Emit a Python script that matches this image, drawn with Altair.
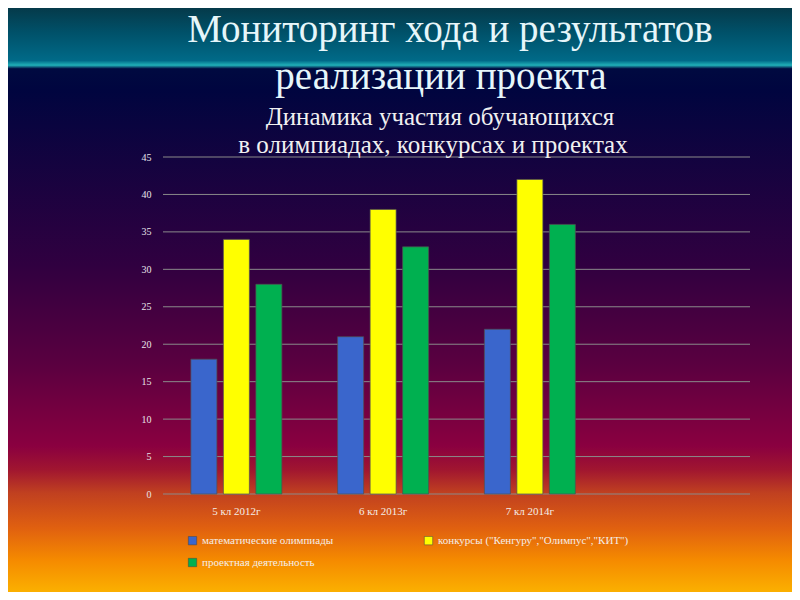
import altair as alt
import pandas as pd

categories = ["5 кл 2012г", "6 кл 2013г", "7 кл 2014г"]
series = ["математические олимпиады", "конкурсы (\"Кенгуру\",\"Олимпус\",\"КИТ\")", "проектная деятельность"]
math_olymp = [18, 21, 22]
contests = [34, 38, 42]
projects = [28, 33, 36]
colors = ["#3a66cc", "#ffff00", "#00b050"]
y_ticks = [0, 5, 10, 15, 20, 25, 30, 35, 40, 45]
title_lines = ["Мониторинг хода и результатов", "реализации проекта"]
subtitle_lines = ["Динамика участия обучающихся", "в олимпиадах, конкурсах и проектах"]

rows = []
for s, vals in zip(series, [math_olymp, contests, projects]):
    for c, v in zip(categories, vals):
        rows.append({"cat": c, "series": s, "value": v})
df = pd.DataFrame(rows)

W, H = 587, 337
PL, PT, PR, PB = 155, 149, 42, 98

x_domain = categories + [" "]

bg = alt.Chart(pd.DataFrame({"a": [0]})).mark_rect(
    color=alt.Gradient(
        gradient="linear", x1=0, y1=0, x2=0, y2=1,
        stops=[
            alt.GradientStop(offset=0.0, color="#053a4a"),
            alt.GradientStop(offset=0.04, color="#005068"),
            alt.GradientStop(offset=0.09, color="#006a88"),
            alt.GradientStop(offset=0.098, color="#20b0b8"),
            alt.GradientStop(offset=0.104, color="#000a40"),
            alt.GradientStop(offset=0.14, color="#00053f"),
            alt.GradientStop(offset=0.44, color="#300040"),
            alt.GradientStop(offset=0.61, color="#5a0040"),
            alt.GradientStop(offset=0.75, color="#8a0040"),
            alt.GradientStop(offset=0.79, color="#a01530"),
            alt.GradientStop(offset=0.83, color="#c04020"),
            alt.GradientStop(offset=0.89, color="#e06010"),
            alt.GradientStop(offset=0.945, color="#f58a00"),
            alt.GradientStop(offset=1.0, color="#fbb000"),
        ],
    )
).encode(
    x=alt.value(-PL), x2=alt.value(W + PR),
    y=alt.value(-PT), y2=alt.value(H + PB),
)

y_axis = alt.Axis(title=None, values=y_ticks, ticks=False, labelOverlap=False,
                  domain=False, grid=False, labelColor="#e8e4ea",
                  labelFont="Liberation Serif", labelFontSize=10,
                  labelPadding=12, zindex=2)
y_scale = alt.Scale(domain=[0, 45])

grid = alt.Chart(pd.DataFrame({"v": y_ticks})).mark_rule(
    color="#8a8a8a", strokeWidth=1
).encode(
    y=alt.Y("v:Q", scale=y_scale, axis=y_axis),
    x=alt.value(0), x2=alt.value(W),
)

bars = alt.Chart(df).mark_bar(stroke="#505050", strokeWidth=0.7).encode(
    x=alt.X("cat:N", sort=x_domain,
            scale=alt.Scale(domain=x_domain, paddingInner=0.38, paddingOuter=0.19),
            axis=alt.Axis(title=None, labelAngle=0, ticks=False, domain=False,
                          labelColor="#f4eee8", labelFont="Liberation Serif",
                          labelFontSize=11, labelPadding=11, zindex=2)),
    xOffset=alt.XOffset("series:N", sort=series,
                        scale=alt.Scale(domain=series, paddingInner=0.2, paddingOuter=0)),
    y=alt.Y("value:Q", scale=y_scale, axis=y_axis),
    color=alt.Color("series:N", sort=series,
                    scale=alt.Scale(domain=series, range=colors),
                    legend=alt.Legend(title=None, orient="none", legendX=24, legendY=378,
                                      direction="horizontal",
                                      columns=2, columnPadding=89, rowPadding=10,
                                      symbolType="square", symbolSize=70,
                                      symbolStrokeWidth=0.5, symbolStrokeColor="#444",
                                      labelFont="Liberation Serif", labelFontSize=11,
                                      labelColor="#f4eee8", labelLimit=400, zindex=2)),
)


def text_line(txt, size, cx, baseline_y, color):
    return alt.Chart(pd.DataFrame({"t": [txt]})).mark_text(
        font="Liberation Serif", fontSize=size, color=color,
        baseline="alphabetic", align="center"
    ).encode(
        text="t:N",
        x=alt.value(cx - 8 - PL),
        y=alt.value(baseline_y - 8 - PT),
    )


t1 = text_line(title_lines[0], 39, 450, 42, "#e6f6fa")
t2 = text_line(title_lines[1], 39, 441, 89, "#e6f6fa")
s1 = text_line(subtitle_lines[0], 25, 440, 125, "#f0f0f0")
s2 = text_line(subtitle_lines[1], 25, 433, 153, "#f0f0f0")

chart = alt.layer(bg, grid, bars, t1, t2, s1, s2).properties(
    width=W, height=H,
    padding={"left": PL, "top": PT, "right": PR, "bottom": PB},
    autosize=alt.AutoSizeParams(type="none"),
).configure_view(stroke=None)

chart.save("out.html", embed_options={"renderer": "svg", "actions": False})
